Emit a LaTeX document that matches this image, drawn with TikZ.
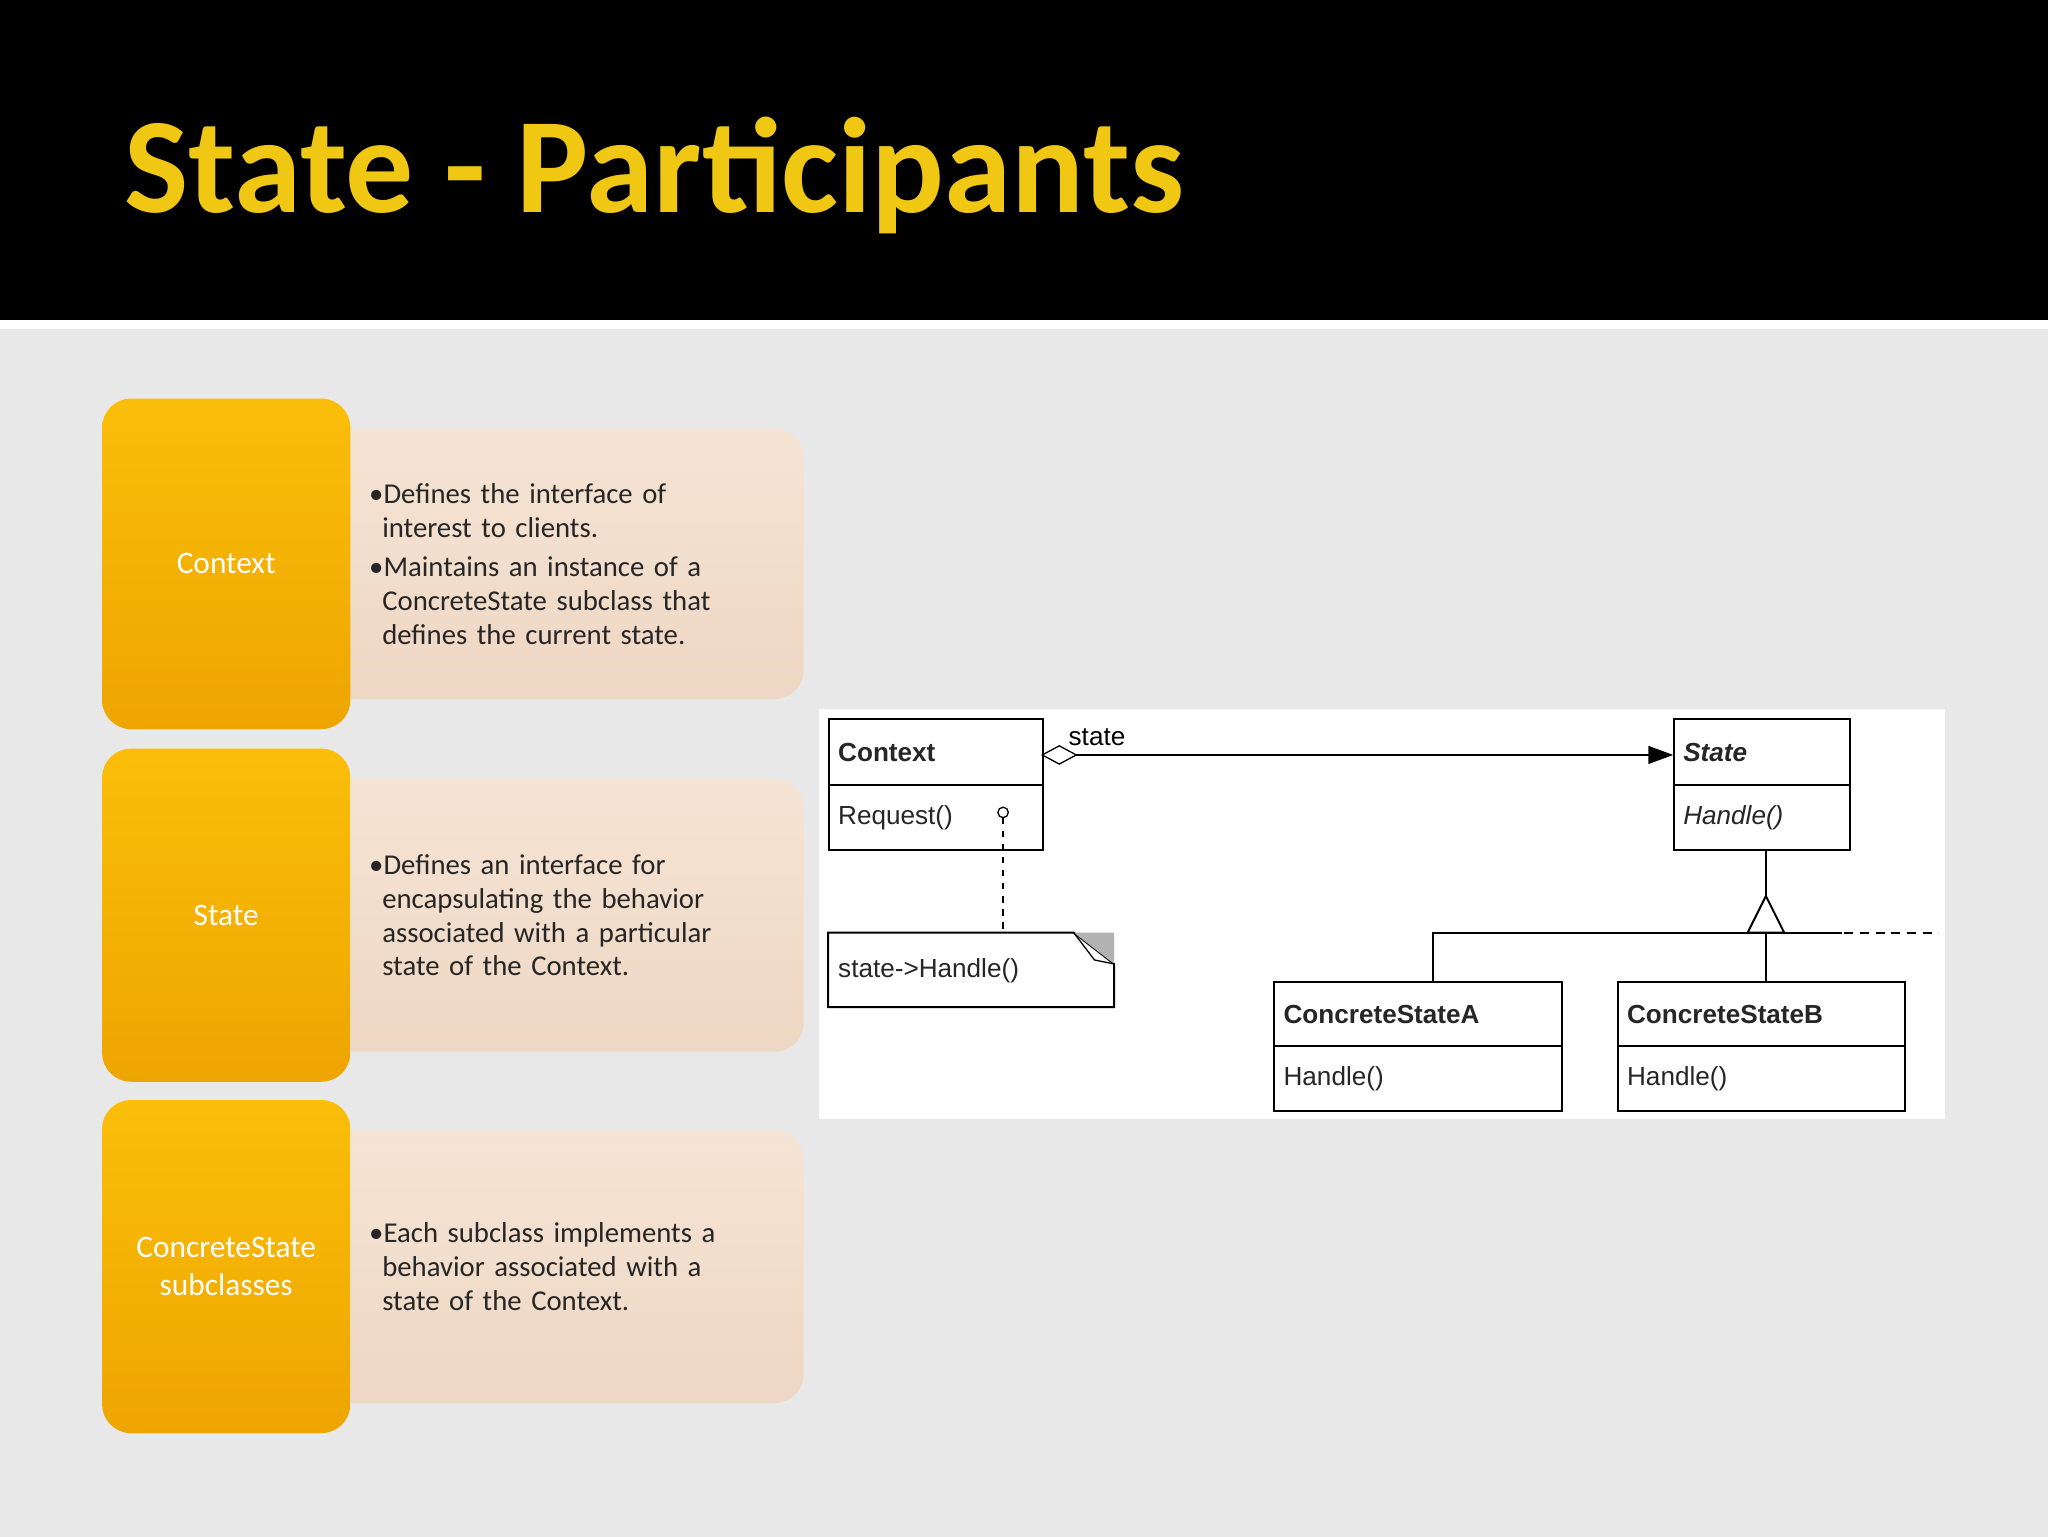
\documentclass[tikz,border=0pt]{standalone}
\usepackage{fontspec}
\setmainfont{Carlito}
\newfontfamily\uml{Liberation Sans}
\definecolor{ytop}{RGB}{250,190,10}
\definecolor{ybot}{RGB}{238,165,0}
\definecolor{btop}{RGB}{245,228,212}
\definecolor{bbot}{RGB}{238,215,195}
\begin{document}
\begin{tikzpicture}[x=1pt,y=1pt,
 ybox/.style={draw=none,rounded corners=22pt,top color=ytop,bottom color=ybot,minimum width=190pt,text=white,font=\fontsize{24}{29}\selectfont,align=center},
 bbox/.style={draw=none,rounded corners=22pt,top color=btop,bottom color=bbot,minimum width=365pt,text=black!85,font=\fontsize{22}{26}\selectfont,align=left,text width=300pt},
 cls/.style={draw,line width=1.5pt,fill=white,minimum height=50pt,inner sep=0pt,font=\uml\fontsize{20}{23}\selectfont,anchor=north west,text=black!85},
 ln/.style={line width=1.5pt}]
\useasboundingbox (0,0) rectangle (1568,-1176);
\fill[gray!18] (-2,2) rectangle (1570,-1178);
\fill[black] (-2,2) rectangle (1570,-245);
\fill[white] (-2,-245) rectangle (1570,-252);
\node[anchor=base west,text={rgb,255:red,240;green,200;blue,20},font=\bfseries\fontsize{104}{120}\selectfont,inner sep=0] (title) at (95,-163) {State - Participants};
% rows
\foreach \t/\h/\nm/\txt/\lab in {305/253/c/{\textbullet Defines the interface of\\\hspace*{10pt}interest to clients.\\[4pt]\textbullet Maintains an instance of a\\\hspace*{10pt}ConcreteState subclass that\\\hspace*{10pt}defines the current state.}/Context,
 573/255/s/{\textbullet Defines an interface for\\\hspace*{10pt}encapsulating the behavior\\\hspace*{10pt}associated with a particular\\\hspace*{10pt}state of the Context.}/State,
 842/255/k/{\textbullet Each subclass implements a\\\hspace*{10pt}behavior associated with a\\\hspace*{10pt}state of the Context.}/{ConcreteState\\subclasses}}{
 \node[bbox,minimum height=\h pt-46pt,anchor=north west] (b\nm) at (250,-\t-23) {\txt};
 \node[ybox,minimum height=\h pt,anchor=north west] (y\nm) at (78,-\t) {\lab};
}
% UML
\fill[white] (627,-543) rectangle (1489,-857);
\node[cls,minimum width=164pt,text width=150pt] (ctx) at (634,-550) {\bfseries Context};
\node[cls,minimum width=164pt,text width=150pt] (req) at (634,-600) {Request()};
\node[cls,minimum width=135pt,text width=121pt] (st) at (1281,-550) {\bfseries\itshape State};
\node[cls,minimum width=135pt,text width=121pt] (sth) at (1281,-600) {\itshape Handle()};
\node[cls,minimum width=220pt,text width=206pt] (ca) at (975,-751) {\bfseries ConcreteStateA};
\node[cls,minimum width=220pt,text width=206pt] (cah) at (975,-800) {Handle()};
\node[cls,minimum width=220pt,text width=206pt] (cb) at (1238,-751) {\bfseries ConcreteStateB};
\node[cls,minimum width=220pt,text width=206pt] (cbh) at (1238,-800) {Handle()};
\node[cls,minimum width=219pt,minimum height=57pt,text width=205pt,draw=none,fill=none] (note) at (634,-714) {state-{>}Handle()};
\draw[ln] (634,-714) -- (822,-714) -- (853,-738) -- (853,-771) -- (634,-771) -- cycle;
\fill[gray!60] (822,-714) -- (853,-714) -- (853,-738) -- cycle;
\draw[line width=1pt] (822,-714) -- (838,-735) -- (853,-738);
% aggregation
\coordinate (d0) at (798,-578);
\draw[line width=1pt,fill=white] (d0) -- (811,-571) -- (824,-578) -- (811,-585) -- cycle;
\draw[ln] (824,-578) -- (1268,-578);
\fill (1281,-578) -- (1262,-571) -- (1262,-585) -- cycle;
\node[font=\uml\fontsize{20}{23}\selectfont,anchor=south west,inner sep=1pt] (lbl) at (817,-572) {state};
% note link
\draw[line width=1pt] (768,-622) circle (4pt);
\draw[line width=1.3pt,dash pattern=on 5pt off 5pt] (768,-626) -- (768,-714);
% inheritance
\draw[ln] (1352,-650) -- (1352,-686);
\draw[ln,fill=white] (1352,-686) -- (1338,-714) -- (1366,-714) -- cycle;
\draw[ln] (1097,-751) -- (1097,-714) -- (1410,-714);
\draw[ln] (1352,-714) -- (1352,-751);
\draw[ln,dash pattern=on 7pt off 5pt] (1412,-714) -- (1484,-714);
\end{tikzpicture}
\end{document}
